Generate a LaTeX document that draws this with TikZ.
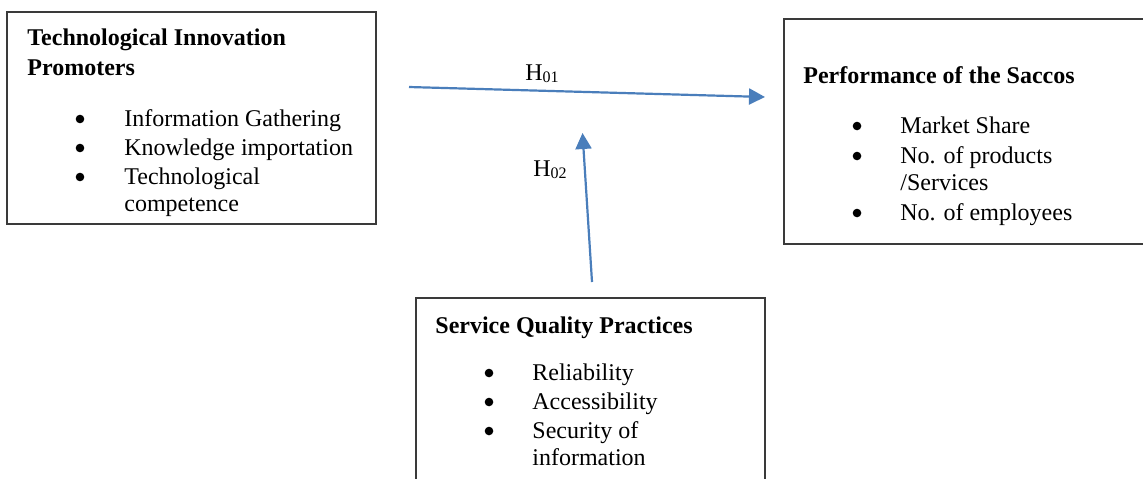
\documentclass[tikz,border=0pt]{standalone}
\usepackage{fontspec}
\setmainfont{Liberation Serif}
\usetikzlibrary{arrows.meta}
\definecolor{linkblue}{HTML}{4A7EBB}
\definecolor{boxline}{HTML}{3A3A3A}
\begin{document}
\begin{tikzpicture}[x=0.5pt,y=-0.5pt,
  frame/.style={draw=boxline,line width=0.6pt},
  txt/.style={anchor=base west,inner sep=0pt,font=\fontsize{12}{14}\selectfont},
  ttl/.style={txt,font=\fontsize{12}{14}\selectfont\bfseries},
  bul/.style={circle,fill=black,inner sep=0pt,minimum size=4.3pt},
  link/.style={draw=linkblue,line width=1.1pt,-{Triangle[length=8pt,width=8pt]}},
  hlab/.style={anchor=base west,inner sep=0pt,font=\fontsize{12}{14}\selectfont}]
\useasboundingbox (0,0) rectangle (1143,478);
\clip (0,0) rectangle (1143,478);
\fill[white] (0,0) rectangle (1143,478);

% Technological Innovation Promoters
\draw[frame] (7,12) rectangle (376,224);
\node[ttl] (t1) at (27,45) {Technological Innovation};
\node[ttl] (t2) at (27,75) {Promoters};
\node[bul] (tb1) at (80,119) {};
\node[txt] (ti1) at (124,126) {Information Gathering};
\node[bul] (tb2) at (80,148) {};
\node[txt] (ti2) at (124,155) {Knowledge importation};
\node[bul] (tb3) at (80,177) {};
\node[txt] (ti3) at (124,184) {Technological};
\node[txt] (ti4) at (124,211) {competence};

% Performance of the Saccos
\draw[frame] (1160,19) -- (784,19) -- (784,244) -- (1160,244);
\node[ttl] (p1) at (803,83) {Performance of the Saccos};
\node[bul] (pb1) at (857,126) {};
\node[txt] (pi1) at (900,133) {Market Share};
\node[bul] (pb2) at (857,156) {};
\node[txt] (pi2) at (900,163) {No. of products};
\node[txt] (pi3) at (900,190) {/Services};
\node[bul] (pb3) at (857,213) {};
\node[txt] (pi4) at (900,220) {No. of employees};

% Service Quality Practices
\draw[frame] (416,500) -- (416,298) -- (765,298) -- (765,500);
\node[ttl] (s1) at (435,333) {Service Quality Practices};
\node[bul] (sb1) at (489,373) {};
\node[txt] (si1) at (532,380) {Reliability};
\node[bul] (sb2) at (489,402) {};
\node[txt] (si2) at (532,409) {Accessibility};
\node[bul] (sb3) at (489,431) {};
\node[txt] (si3) at (532,438) {Security of};
\node[txt] (si4) at (532,465) {information};

% Hypothesised links
\coordinate (h1s) at (409,87);
\coordinate (h1e) at (765,97);
\coordinate (h2s) at (592,282);
\coordinate (h2e) at (582.5,133);
\draw[link] (h1s) -- (h1e);
\draw[link] (h2s) -- (h2e);
\node[hlab] (h1) at (525,80) {H\raisebox{-1pt}{\fontsize{8}{9}\selectfont 01}};
\node[hlab] (h2) at (533,176) {H\raisebox{-1pt}{\fontsize{8}{9}\selectfont 02}};
\end{tikzpicture}
\end{document}
